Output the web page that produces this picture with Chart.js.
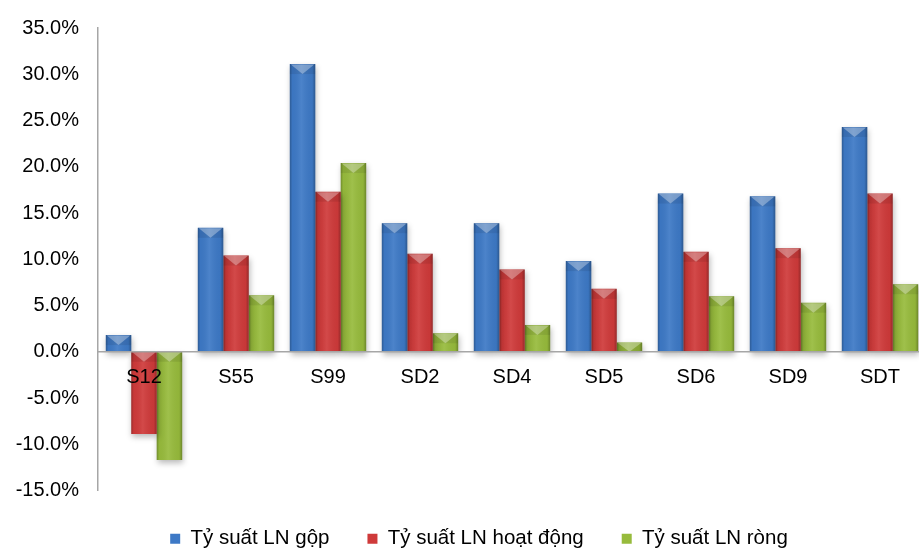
<!DOCTYPE html>
<html><head><meta charset="utf-8">
<script src="https://cdn.jsdelivr.net/npm/chart.js@4"></script>
<style>html,body{margin:0;padding:0;background:#fff;overflow:hidden}#wrap{width:919px;height:550px;overflow:hidden}</style>
</head><body><div id="wrap"><canvas id="c" width="926" height="550"></canvas></div>
<script>
const categories = ['S12','S55','S99','SD2','SD4','SD5','SD6','SD9','SDT'];
const seriesNames = ['Tỷ suất LN gộp','Tỷ suất LN hoạt động','Tỷ suất LN ròng'];
const grossMargin = [1.8,13.4,31.1,13.9,13.9,9.8,17.1,16.8,24.3];
const operatingMargin = [-8.9,10.4,17.3,10.6,8.9,6.8,10.8,11.2,17.1];
const netMargin = [-11.7,6.1,20.4,2.0,2.9,1.0,6.0,5.3,7.3];
const yMin = -15, yMax = 35, yStep = 5;
const colors = ['#3d79c6','#cf3a3a','#97bb3c'];
const FONT = "'Liberation Sans', Arial, sans-serif";

const bevelPlugin = {
  id: 'bevel',
  afterLayout(chart) {
    if (chart.legend) { chart.legend.left += 16; chart.legend.right += 16; }
  },
  beforeDatasetDraw(chart) {
    const ctx = chart.ctx;
    ctx.save();
    ctx.shadowColor = 'rgba(0,0,0,0.28)';
    ctx.shadowBlur = 6;
    ctx.shadowOffsetX = 1;
    ctx.shadowOffsetY = 3;
  },
  afterDatasetDraw(chart, args) {
    const ctx = chart.ctx;
    ctx.restore();
    ctx.save();
    args.meta.data.forEach(el => {
      const p = el.getProps(['x','y','base','width'], true);
      const l = p.x - p.width/2, r = p.x + p.width/2;
      const t = Math.min(p.y, p.base), b = Math.max(p.y, p.base);
      const h = b - t;
      if (h <= 0) return;
      const g = ctx.createLinearGradient(l, 0, r, 0);
      g.addColorStop(0, 'rgba(0,0,0,0.25)');
      g.addColorStop(0.1, 'rgba(0,0,0,0.03)');
      g.addColorStop(0.45, 'rgba(255,255,255,0.08)');
      g.addColorStop(0.88, 'rgba(0,0,0,0.04)');
      g.addColorStop(1, 'rgba(0,0,0,0.28)');
      ctx.fillStyle = g;
      ctx.fillRect(l, t, p.width, h);
      const bh = Math.min(10, h);
      ctx.fillStyle = 'rgba(0,0,0,0.08)';
      ctx.fillRect(l, t, p.width, bh);
      ctx.beginPath();
      ctx.moveTo(l + 1, t + 0.5);
      ctx.lineTo(r - 1, t + 0.5);
      ctx.lineTo(p.x, t + bh);
      ctx.closePath();
      ctx.fillStyle = 'rgba(255,255,255,0.32)';
      ctx.fill();
    });
    ctx.restore();
  }
};

const datasets = [grossMargin, operatingMargin, netMargin].map((d, i) => ({
  label: seriesNames[i],
  data: d,
  backgroundColor: colors[i],
  borderWidth: 0,
  categoryPercentage: 0.83,
  barPercentage: 1.0
}));

new Chart(document.getElementById('c'), {
  type: 'bar',
  data: { labels: categories, datasets },
  plugins: [bevelPlugin],
  options: {
    responsive: false,
    animation: false,
    layout: { padding: { top: 28, right: 0, left: 0, bottom: -9 } },
    plugins: {
      tooltip: { enabled: false },
      legend: {
        position: 'bottom',
        labels: {
          color: '#000',
          font: { size: 20.5, family: FONT },
          boxWidth: 10, boxHeight: 10,
          padding: 38
        }
      }
    },
    scales: {
      x: {
        position: { y: 0 },
        grid: { display: false, drawTicks: false },
        border: { display: true, color: '#a6a6a6', width: 1.5, z: 1 },
        ticks: { z: 2, color: '#000', font: { size: 20, family: FONT }, padding: 14, maxRotation: 0 }
      },
      y: {
        min: yMin, max: yMax,
        afterFit(s) { s.width = 98; s.paddingTop = 0; s.paddingBottom = 0; },
        grid: { display: false, drawTicks: false },
        border: { display: true, color: '#a6a6a6', width: 1.5 },
        ticks: {
          stepSize: yStep, color: '#000', padding: 19,
          font: { size: 20, family: FONT },
          callback: v => v.toFixed(1) + '%'
        }
      }
    }
  }
});
</script></body></html>
